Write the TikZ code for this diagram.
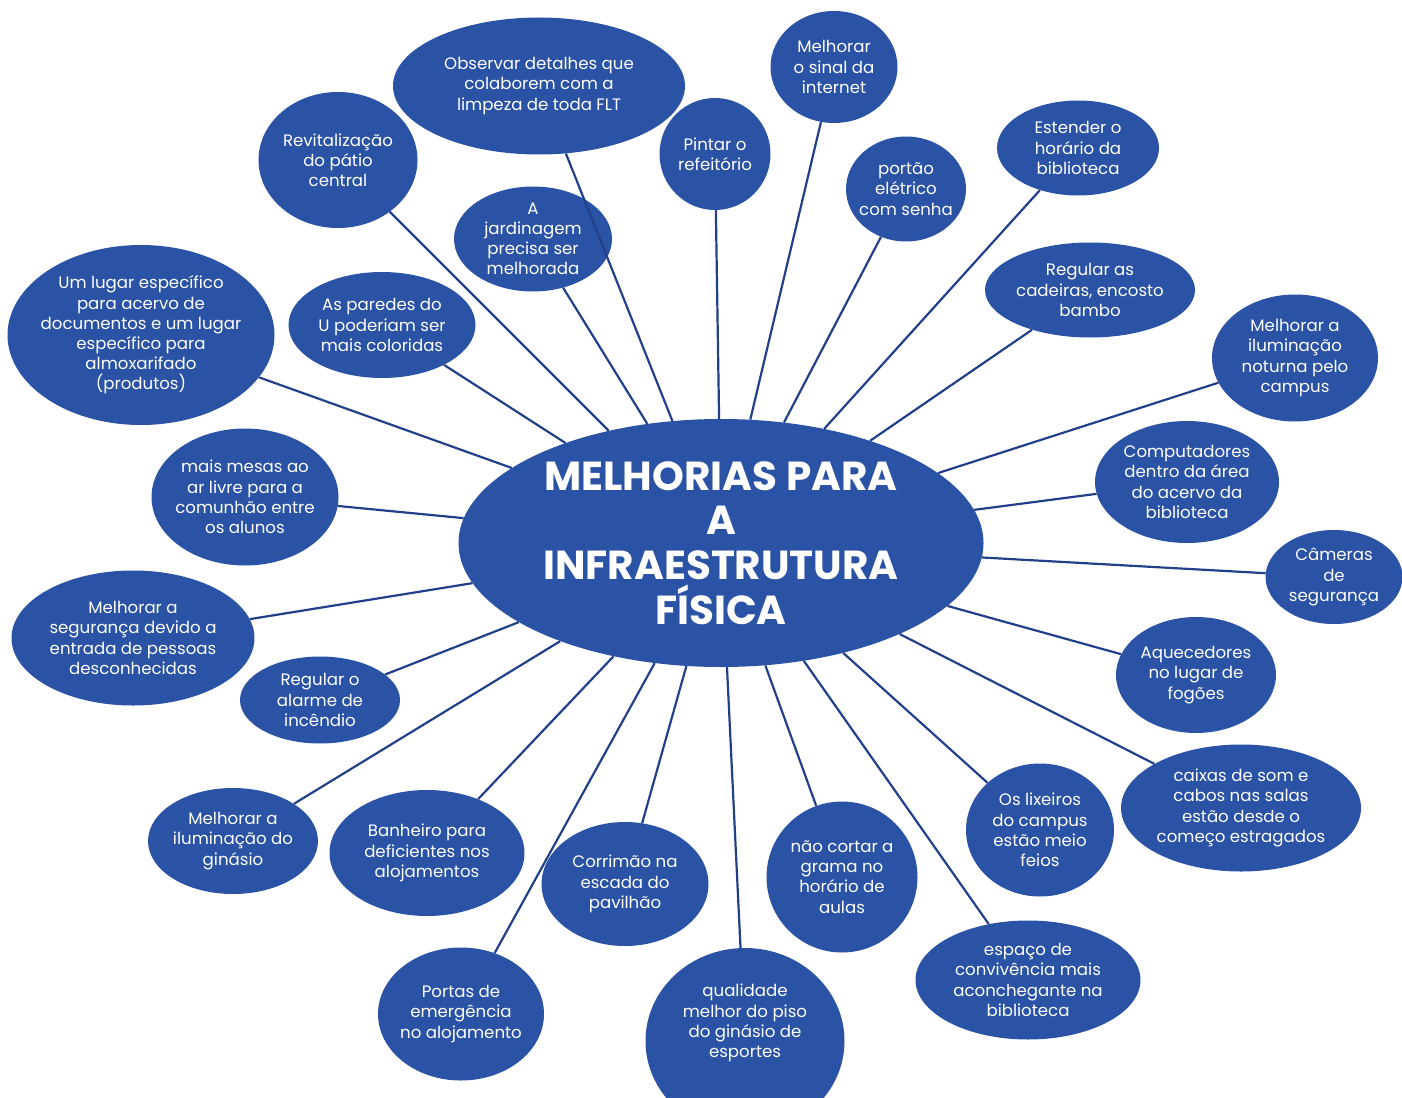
\documentclass[tikz,border=0pt]{standalone}
\usepackage{fontspec}
\setmainfont{Poppins}
\usetikzlibrary{shapes.geometric}
\definecolor{bfill}{HTML}{2A52A5}
\definecolor{lcol}{HTML}{22408A}
\begin{document}
\begin{tikzpicture}[x=1pt,y=-1pt,
  bub/.style={ellipse, fill=bfill, draw=none, text=white, align=center, inner sep=-16pt,
    font=\fontsize{16.6}{20.2}\selectfont},
  btxt/.style={text=white, align=center, inner sep=0pt, font=\fontsize{16.6}{20.2}\selectfont},
  lnk/.style={draw=lcol, line width=2.2pt}]
\useasboundingbox (0,0) rectangle (1402,1097);
\node[bub, minimum width=525pt, minimum height=248pt, inner sep=-40pt,
  font=\bfseries\fontsize{40.5}{44.7}\selectfont] (c) at (721,543)
  {MELHORIAS PARA\\A\\INFRAESTRUTURA\\FÍSICA};
\node[bub, minimum width=292pt, minimum height=137pt] (n1) at (539,86) {Observar detalhes que\\colaborem com a\\limpeza de toda FLT};
\node[bub, minimum width=127pt, minimum height=112pt] (n2) at (834,67) {Melhorar\\o sinal da\\internet};
\node[bub, minimum width=159pt, minimum height=136pt] (n3) at (338,160) {Revitalização\\do pátio\\central};
\node[bub, minimum width=111pt, minimum height=112pt] (n4) at (715,154) {Pintar o\\refeitório};
\node[bub, minimum width=162pt, minimum height=95pt] (n5) at (1078,148) {Estender o\\horário da\\biblioteca};
\node[bub, minimum width=120pt, minimum height=105pt] (n6) at (906,189) {portão\\elétrico\\com senha};
\node[bub, minimum width=158pt, minimum height=105pt] (n7) at (533,239) {A\\jardinagem\\precisa ser\\melhorada};
\node[bub, minimum width=210pt, minimum height=95pt] (n8) at (1090,290) {Regular as\\cadeiras, encosto\\bambo};
\node[bub, minimum width=267pt, minimum height=180pt] (n9) at (141,335) {Um lugar específico\\para acervo de\\documentos e um lugar\\específico para\\almoxarifado\\(produtos)};
\node[bub, minimum width=187pt, minimum height=106pt] (n10) at (382,325) {As paredes do\\U poderiam ser\\mais coloridas};
\node[bub, minimum width=166pt, minimum height=127pt] (n11) at (1295,358) {Melhorar a\\iluminação\\noturna pelo\\campus};
\node[bub, minimum width=187pt, minimum height=137pt] (n12) at (245,497) {mais mesas ao\\ar livre para a\\comunhão entre\\os alunos};
\node[bub, minimum width=184pt, minimum height=122pt] (n13) at (1187,482) {Computadores\\dentro da área\\do acervo da\\biblioteca};
\node[bub, minimum width=137pt, minimum height=94pt] (n14) at (1334,577) {Câmeras\\de\\segurança};
\node[bub, minimum width=243pt, minimum height=135pt] (n15) at (133,638) {Melhorar a\\segurança devido a\\entrada de pessoas\\desconhecidas};
\node[bub, minimum width=160pt, minimum height=116pt] (n16) at (1196,675) {Aquecedores\\no lugar de\\fogões};
\node[bub, minimum width=160pt, minimum height=87pt] (n17) at (320,700) {Regular o\\alarme de\\incêndio};
\node[bub, minimum width=240pt, minimum height=127pt] (n18) at (1241,808) {caixas de som e\\cabos nas salas\\estão desde o\\começo estragados};
\node[bub, minimum width=148pt, minimum height=133pt] (n19) at (1040,830) {Os lixeiros\\do campus\\estão meio\\feios};
\node[bub, minimum width=170pt, minimum height=106pt] (n20) at (233,841) {Melhorar a\\iluminação do\\ginásio};
\node[bub, minimum width=195pt, minimum height=126pt] (n21) at (427,853) {Banheiro para\\deficientes nos\\alojamentos};
\node[bub, minimum width=167pt, minimum height=124pt] (n22) at (625,884) {Corrimão na\\escada do\\pavilhão};
\node[bub, minimum width=151pt, minimum height=151pt] (n23) at (842,877) {não cortar a\\grama no\\horário de\\aulas};
\node[bub, minimum width=225pt, minimum height=119pt] (n24) at (1028,980) {espaço de\\convivência mais\\aconchegante na\\biblioteca};
\node[bub, minimum width=166pt, minimum height=133pt] (n25) at (461,1014) {Portas de\\emergência\\no alojamento};
\node[bub, minimum width=199pt, minimum height=186pt] (n26) at (745,1041) {};
\node[btxt] (t26) at (745,1023) {qualidade\\melhor do piso\\do ginásio de\\esportes};
\foreach \n in {n1,n2,n3,n4,n5,n6,n7,n8,n9,n10,n11,n12,n13,n14,n15,n16,n17,n18,n19,n20,n21,n22,n23,n24,n25,n26}
  \draw[lnk] (\n) -- (c);
\end{tikzpicture}
\end{document}
